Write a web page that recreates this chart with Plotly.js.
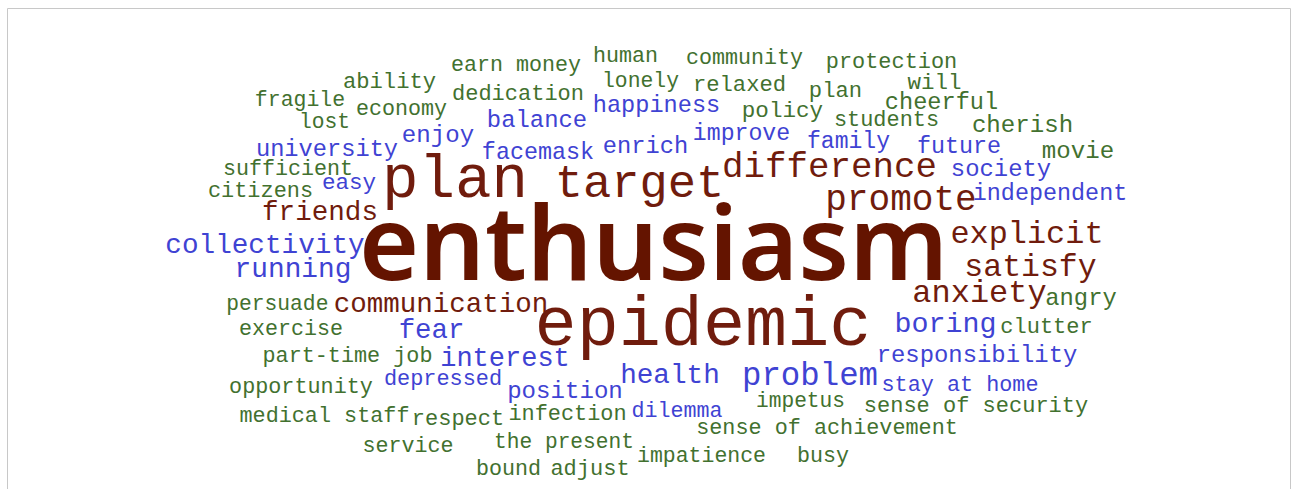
<!DOCTYPE html>
<html><head><meta charset="utf-8">
<script src="https://cdn.plot.ly/plotly-3.0.1.min.js"></script>
<style>html,body{margin:0;padding:0;background:#fff;overflow:hidden}</style>
</head><body><div id="chart" style="width:1292px;height:489px"></div>
<script>
// ---- data: words, relative weight (frequency), tone group ----
const words = ["earn money","human","community","protection","ability","fragile","dedication","lonely","relaxed","plan",
"will","economy","happiness","policy","cheerful","lost","balance","students","cherish","enjoy",
"improve","family","university","facemask","enrich","future","movie","sufficient","society","difference",
"plan","target","citizens","easy","promote","independent","friends","enthusiasm","explicit","collectivity",
"satisfy","running","anxiety","angry","persuade","communication","epidemic","exercise","fear","boring",
"clutter","part-time job","interest","responsibility","opportunity","depressed","position","health","problem","stay at home",
"medical staff","respect","infection","dilemma","impetus","sense of security","sense of achievement","service","the present","impatience",
"busy","bound","adjust"];
const weights = [21.7,21.7,21.7,21.9,22.2,21.5,22,21.4,22.2,22.2,
22.5,21.7,23.6,22.6,23.6,21.3,23.9,21.9,24.1,24.1,
23.2,23.1,23.7,23.4,23.7,23.4,24.1,21.7,23.9,35.8,
60.9,47.1,21.9,22.6,36.1,23.4,27.6,103,31.9,27.7,
31.5,27.8,32,23.8,21.3,27.5,70.2,21.7,27.4,28.3,
22,21.8,27,23.9,21.8,21.9,24.1,27.7,32.4,21.8,
21.8,22,21.9,21.7,21.2,22,21.8,21.7,21.2,21.5,
21.7,21.7,22];
const tones = ["g","g","g","g","g","g","g","g","g","g",
"g","g","b","g","g","g","b","g","g","b",
"b","b","b","b","b","b","g","g","b","r",
"r","r","g","b","r","b","r","R","r","b",
"r","b","r","g","g","r","r","g","b","b",
"g","g","b","b","g","b","b","b","b","b",
"g","g","g","b","g","g","g","g","g","g",
"g","g","g"];

// ---- layout: word placement (centre x, baseline y in px) ----
const posX = [516,625.5,744.5,891.5,389.5,300,518,640.5,739.5,835.5,
934.5,401.5,656.5,782.5,941.5,324.5,537,886.5,1022.5,438,
741.5,848.5,327,538,645.5,959,1078,288,1001,829.5,
455,639.5,260.5,349,901,1050,320,653.5,1027,265,
1030.5,293,979.5,1081,277.3,441,703,291,431.5,945.5,
1046.5,347.5,505,977,301,443,565,670,810,960,
324.5,458,567.5,677,800.5,976,827,408,564,701.5,
823,508.5,590];
const posBase = [71,62,64,68,88,106,100,87,91,97,
89,115,112,117,109,128,127,126,132,142,
140,148,156,159,153,153,158,175,176,177,
197,197,197,189,210,200,220,280,243,253,
276,277,302,305,310,312,345,335,338,332,
333,362,366,362,393,385,398,383,385,391,
422,425,420,417,407,412,434,452,448,462,
462,475,475];

const toneColor = {g:"#42712f", b:"#3f43d3", r:"#701c0d", R:"#641400"};
const MONO = "Liberation Mono, DejaVu Sans Mono, monospace";
const SANS = "Noto Sans, Open Sans, sans-serif";

function trace(sel, family, weight) {
  const idx = words.map((w,i)=>i).filter(sel);
  return {
    type: "scatter", mode: "text", hoverinfo: "skip", showlegend: false,
    x: idx.map(i => posX[i]),
    y: idx.map(i => posBase[i] - 0.25 * weights[i]),
    text: idx.map(i => words[i]),
    textposition: "middle center",
    textfont: {family: family, weight: weight,
      size: idx.map(i => weights[i]),
      color: idx.map(i => toneColor[tones[i]])}
  };
}

const data = [
  trace(i => tones[i] !== "R", MONO, 400),
  trace(i => tones[i] === "R", SANS, 600)
];

const layout = {
  width: 1292, height: 489,
  margin: {l:0, r:0, t:0, b:0},
  paper_bgcolor: "#fff", plot_bgcolor: "#fff",
  xaxis: {range:[0,1292], visible:false, fixedrange:true},
  yaxis: {range:[489,0], visible:false, fixedrange:true},
  shapes: [{type:"rect", xref:"paper", yref:"paper", layer:"below",
    x0: 7.5/1292, x1: 1290.5/1292, y0: -0.05, y1: 1 - 8.5/489,
    line:{color:"#c8c8c8", width:1}, fillcolor:"rgba(0,0,0,0)"}]
};

Plotly.newPlot("chart", data, layout, {staticPlot:true, displayModeBar:false});
</script></body></html>
